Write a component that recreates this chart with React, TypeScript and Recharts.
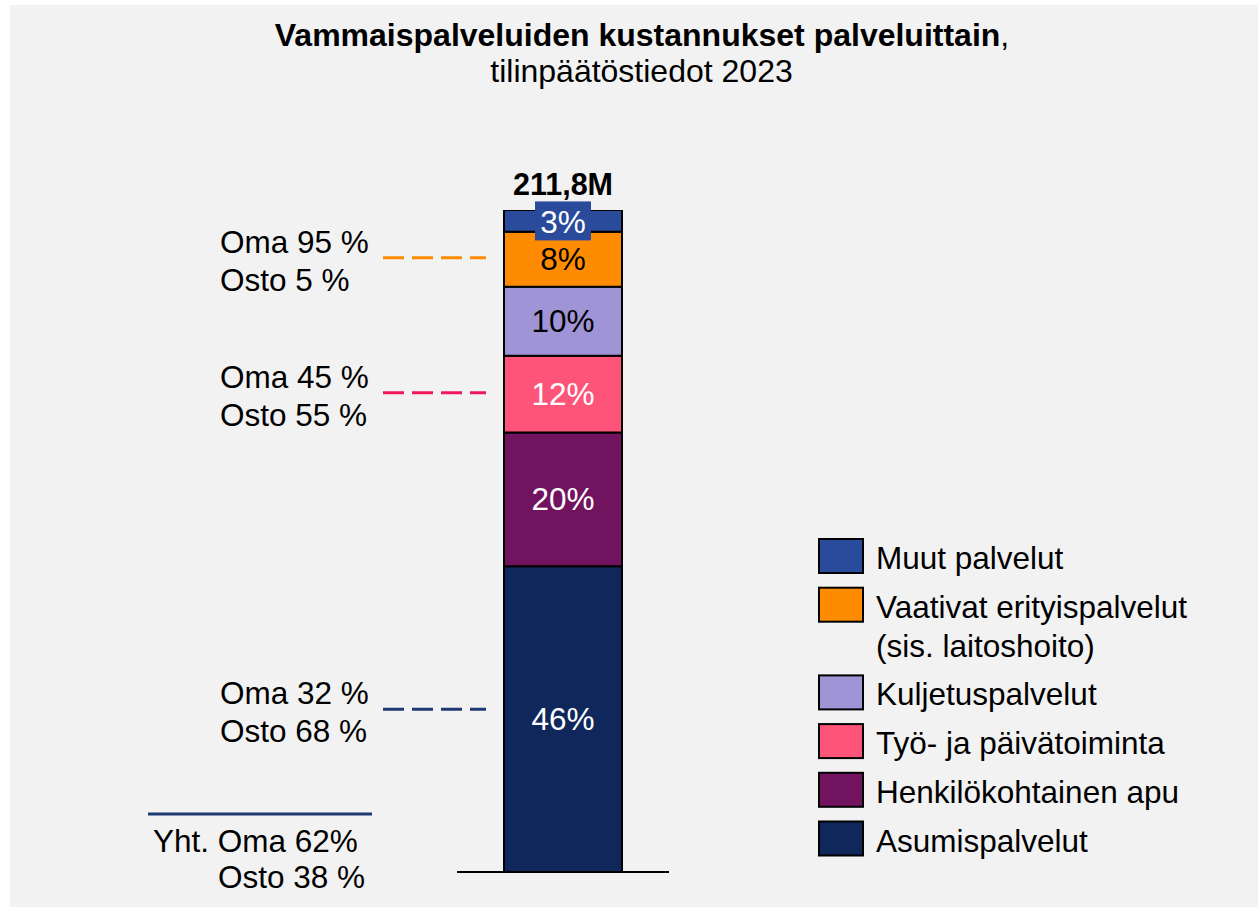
import React from 'react';
import { BarChart, Bar, XAxis, YAxis, ReferenceLine, LabelList, Legend } from 'recharts';

const FONT = '"Liberation Sans", Arial, Helvetica, sans-serif';

const categories = ['2023'];
const seriesKeys = ['asum', 'henk', 'tyo', 'kulj', 'vaat', 'muut'];
const seriesNames = [
  'Asumispalvelut',
  'Henkilökohtainen apu',
  'Työ- ja päivätoiminta',
  'Kuljetuspalvelut',
  'Vaativat erityispalvelut\n(sis. laitoshoito)',
  'Muut palvelut',
];
const seriesValues = [46.2, 20.2, 11.6, 10.4, 8.3, 3.3];
const seriesColors = ['#10275c', '#72135f', '#ff5479', '#9f94d6', '#ff8c00', '#2a4b9b'];
const labelColors = ['#ffffff', '#ffffff', '#ffffff', '#000000', '#000000', '#ffffff'];
const totalLabel = '211,8M';

const annotationY = [92.8, 72.4, 24.6];
const annotationOma = ['Oma 95 %', 'Oma 45 %', 'Oma 32 %'];
const annotationOsto = ['Osto 5 %', 'Osto 55 %', 'Osto 68 %'];
const annotationColors = ['#ff8c00', '#f0185a', '#1f3a73'];

const summaryLines = ['Yht. Oma 62%', 'Osto 38 %'];
const titleBold = 'Vammaispalveluiden kustannukset palveluittain';
const titleRest = ',';
const subtitle = 'tilinpäätöstiedot 2023';

const TXT = 31.5;

const data = categories.map((c) => {
  const row: any = { cat: c };
  seriesKeys.forEach((k, i) => (row[k] = seriesValues[i]));
  return row;
});

const renderLegend = (props: any) => {
  const payload: any[] = props && props.payload && props.payload.length ? props.payload : [];
  let items = payload.length
    ? payload.map((p: any) => {
        const idx = seriesKeys.indexOf(p.dataKey);
        return { idx, name: seriesNames[idx], color: seriesColors[idx] };
      })
    : seriesKeys.map((k, idx) => ({ idx, name: seriesNames[idx], color: seriesColors[idx] }));
  items = items.filter((it: any) => it.idx >= 0).sort((a: any, b: any) => b.idx - a.idx);
  let y = 4;
  const els: any[] = [];
  items.forEach((it: any) => {
    const lines = it.name.split('\n');
    els.push(
      <g key={it.idx}>
        <rect x={4} y={y} width={44} height={34} fill={it.color} stroke="#000" strokeWidth={2} />
        {lines.map((ln: string, j: number) => (
          <text key={j} x={61} y={y + 30 + j * 39} fontSize={TXT} fontFamily={FONT} fill="#000">
            {ln}
          </text>
        ))}
      </g>
    );
    y += 48.7 + (lines.length - 1) * 39;
  });
  return (
    <svg width={440} height={340} style={{ display: 'block', overflow: 'visible' }}>
      {els}
    </svg>
  );
};

const makeSegmentLabel = (i: number) => (props: any) => {
  const { x, y, width, height, value } = props;
  const cx = Number(x) + Number(width) / 2;
  const cy = Number(y) + Number(height) / 2;
  const txt = `${Math.round(Number(value))}%`;
  if (i === seriesKeys.length - 1) {
    return (
      <g>
        <rect x={cx - 28} y={cy - 19.5} width={56} height={39} fill={seriesColors[i]} />
        <text x={cx} y={cy + 12} textAnchor="middle" fontSize={TXT} fontFamily={FONT} fill={labelColors[i]}>
          {txt}
        </text>
      </g>
    );
  }
  return (
    <text x={cx} y={cy + 11} textAnchor="middle" fontSize={TXT} fontFamily={FONT} fill={labelColors[i]}>
      {txt}
    </text>
  );
};

const totalLabelContent = (props: any) => {
  const { x, y, width } = props;
  const cx = Number(x) + Number(width) / 2;
  return (
    <text x={cx} y={Number(y) - 15} textAnchor="middle" fontSize={30.5} fontWeight="bold" fontFamily={FONT} fill="#000">
      {totalLabel}
    </text>
  );
};

const makeAnnotationShape = (i: number) => (p: any) => {
  const yy = Number(p.y1);
  return (
    <g>
      <line x1={383} x2={486} y1={yy} y2={yy} stroke={annotationColors[i]} strokeWidth={3} strokeDasharray="21 8" />
      <text x={220} y={yy - 5} fontSize={TXT} fontFamily={FONT} fill="#000">
        {annotationOma[i]}
      </text>
      <text x={220} y={yy + 33} fontSize={TXT} fontFamily={FONT} fill="#000">
        {annotationOsto[i]}
      </text>
    </g>
  );
};

export default function App() {
  return (
    <div style={{ position: 'absolute', left: 0, top: 0, width: 1258, height: 907, background: '#ffffff', overflow: 'hidden' }}>
      <div style={{ position: 'absolute', left: 10, top: 5, width: 1248, height: 902, background: '#f2f2f2' }} />
      <div style={{ position: 'absolute', left: 0, top: 0 }}>
        <BarChart
          width={1258}
          height={907}
          data={data}
          margin={{ top: 210, bottom: 35, left: 457, right: 589 }}
          barCategoryGap={0}
        >
          <XAxis dataKey="cat" hide />
          <YAxis hide domain={[0, 100]} allowDataOverflow />
          {seriesKeys.map((k, i) => (
            <Bar
              key={k}
              dataKey={k}
              name={seriesNames[i]}
              stackId="a"
              fill={seriesColors[i]}
              stroke="#000"
              strokeWidth={2}
              barSize={118}
              isAnimationActive={false}
            >
              <LabelList dataKey={k} content={makeSegmentLabel(i)} />
              {i === seriesKeys.length - 1 ? <LabelList dataKey={k} content={totalLabelContent} /> : null}
            </Bar>
          ))}
          <ReferenceLine y={0} stroke="#000" strokeWidth={2} ifOverflow="visible" />
          {annotationY.map((v, i) => (
            <ReferenceLine key={'ann' + i} y={v} ifOverflow="visible" shape={makeAnnotationShape(i)} />
          ))}
          <Legend
            layout="vertical"
            align="center"
            verticalAlign="middle"
            content={renderLegend}
            wrapperStyle={{ position: 'absolute', left: 815, top: 535, width: 440, height: 340 }}
          />
        </BarChart>
      </div>
      <svg width={1258} height={907} style={{ position: 'absolute', left: 0, top: 0, pointerEvents: 'none' }}>
        <text x={642} y={46} textAnchor="middle" fontSize={32} fontFamily={FONT} fill="#000">
          <tspan fontWeight="bold">{titleBold}</tspan>
          <tspan>{titleRest}</tspan>
        </text>
        <text x={641.5} y={82} textAnchor="middle" fontSize={32} fontFamily={FONT} fill="#000">
          {subtitle}
        </text>
        <line x1={148} x2={372} y1={814} y2={814} stroke="#1f3a73" strokeWidth={3} />
        <text x={153} y={852} fontSize={TXT} fontFamily={FONT} fill="#000">
          {summaryLines[0]}
        </text>
        <text x={218} y={888} fontSize={TXT} fontFamily={FONT} fill="#000">
          {summaryLines[1]}
        </text>
      </svg>
    </div>
  );
}
